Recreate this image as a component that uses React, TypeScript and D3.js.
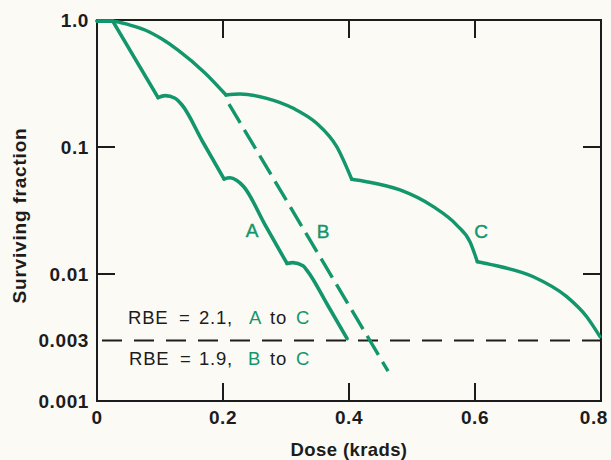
import React from "react";
import * as d3 from "d3";

// ---- data ----
const doseTicks = [0, 0.2, 0.4, 0.6, 0.8];
const doseTickLabels = ["0", "0.2", "0.4", "0.6", "0.8"];
const fracTicks = [1, 0.1, 0.01, 0.003, 0.001];
const fracTickLabels = ["1.0", "0.1", "0.01", "0.003", "0.001"];
const innerDoseTicks = [0.2, 0.4, 0.6];
const innerFracTicks = [0.1, 0.01];
const referenceLevel = 0.003;

// Curve A (solid), split at its cusps
const curveA: [number, number][][] = [
  [[0, 0.98], [0.025, 0.98]],
  [[0.025, 0.98], [0.097, 0.245]],
  [[0.097, 0.245], [0.108, 0.254], [0.124, 0.242], [0.135, 0.214], [0.168, 0.1095], [0.2016, 0.056]],
  [[0.2016, 0.056], [0.211, 0.0572], [0.222, 0.0545], [0.233, 0.0487], [0.267, 0.0243], [0.3016, 0.0121]],
  [[0.3016, 0.0121], [0.311, 0.0123], [0.327, 0.0116], [0.335, 0.0104], [0.366, 0.0057], [0.397, 0.0031]],
];

// Curve B (dashed)
const curveB: [number, number][] = [[0.2095, 0.218], [0.462, 0.00172]];

// Curve C (solid), split at its cusps
const curveC: [number, number][][] = [
  [[0, 0.98], [0.024, 0.978], [0.0524, 0.913], [0.0762, 0.834], [0.1032, 0.708], [0.1286, 0.58], [0.1714, 0.383], [0.2048, 0.2567]],
  [[0.2048, 0.2567], [0.227, 0.2615], [0.2694, 0.2417], [0.3116, 0.2017], [0.3487, 0.1537], [0.3805, 0.1006], [0.4043, 0.0557]],
  [[0.4043, 0.0557], [0.4281, 0.0533], [0.481, 0.0459], [0.5338, 0.0339], [0.571, 0.0243], [0.592, 0.01796], [0.6037, 0.0125]],
  [[0.6037, 0.0125], [0.6238, 0.01192], [0.6925, 0.00952], [0.7456, 0.00663], [0.7773, 0.00461], [0.7984, 0.00321]],
];

const W = 611;
const H = 460;
const GREEN = "#12966b";
const INK = "#1c1c1c";
const BG = "#fcfaf5";
const FONT = "'Liberation Sans', Arial, Helvetica, sans-serif";

export default function App() {
  const x = d3.scaleLinear().domain([0, 0.8]).range([97, 601]);
  const y = d3.scaleLog().domain([0.001, 1]).range([401, 20]);
  const line = d3
    .line<[number, number]>()
    .x((d) => x(d[0]))
    .y((d) => y(d[1]))
    .curve(d3.curveMonotoneX);
  const straight = d3
    .line<[number, number]>()
    .x((d) => x(d[0]))
    .y((d) => y(d[1]));

  const x0 = x(0), x1 = x(0.8), yTop = y(1), yBot = y(0.001);
  const tickLen = 18;

  return (
    <svg
      width={W}
      height={H}
      style={{ position: "absolute", left: 0, top: 0, background: BG }}
      fontFamily={FONT}
    >
      <rect x={0} y={0} width={W} height={H} fill={BG} />
      {/* frame */}
      <rect x={x0} y={yTop} width={x1 - x0} height={yBot - yTop} fill="none" stroke={INK} strokeWidth={2} />
      {/* inner ticks */}
      {innerDoseTicks.map((d) => (
        <g key={"dx" + d}>
          <line x1={x(d)} x2={x(d)} y1={yTop} y2={yTop + tickLen} stroke={INK} strokeWidth={2} />
          <line x1={x(d)} x2={x(d)} y1={yBot} y2={yBot - tickLen} stroke={INK} strokeWidth={2} />
        </g>
      ))}
      {innerFracTicks.map((f) => (
        <g key={"fy" + f}>
          <line x1={x0} x2={x0 + tickLen} y1={y(f)} y2={y(f)} stroke={INK} strokeWidth={2} />
          <line x1={x1} x2={x1 - tickLen} y1={y(f)} y2={y(f)} stroke={INK} strokeWidth={2} />
        </g>
      ))}
      {/* tick labels */}
      {fracTicks.map((f, i) => (
        <text key={"fl" + f} x={89} y={y(f) + 6.7} textAnchor="end" fontSize={19} fontWeight="bold" fill={INK} letterSpacing={0.6}>
          {fracTickLabels[i]}
        </text>
      ))}
      {doseTicks.map((d, i) => (
        <text
          key={"dl" + d}
          x={i === doseTicks.length - 1 ? x(d) + 7 : x(d)}
          y={424}
          textAnchor={i === doseTicks.length - 1 ? "end" : "middle"}
          fontSize={19}
          fontWeight="bold"
          fill={INK}
          letterSpacing={0.6}
        >
          {doseTickLabels[i]}
        </text>
      ))}
      {/* axis titles */}
      <text x={349} y={456} textAnchor="middle" fontSize={18.5} fontWeight="bold" fill={INK} letterSpacing={0.4}>
        Dose (krads)
      </text>
      <text
        transform="translate(26,215.5) rotate(-90)"
        textAnchor="middle"
        fontSize={19}
        fontWeight="bold"
        fill={INK}
        letterSpacing={0.8}
      >
        Surviving fraction
      </text>
      {/* reference level */}
      <line
        x1={x(0)}
        x2={x(0.8)}
        y1={y(referenceLevel)}
        y2={y(referenceLevel)}
        stroke={INK}
        strokeWidth={2}
        strokeDasharray="20,12"
        strokeDashoffset={-5}
      />
      {/* curves */}
      {curveA.map((seg, i) => (
        <path key={"a" + i} d={line(seg) || ""} fill="none" stroke={GREEN} strokeWidth={3.6} strokeLinejoin="round" strokeLinecap="round" />
      ))}
      {curveC.map((seg, i) => (
        <path key={"c" + i} d={line(seg) || ""} fill="none" stroke={GREEN} strokeWidth={3.4} strokeLinejoin="round" strokeLinecap="round" />
      ))}
      <path d={straight(curveB) || ""} fill="none" stroke={GREEN} strokeWidth={3.4} strokeDasharray="22,8" />
      {/* curve labels */}
      <text x={252} y={237} textAnchor="middle" fontSize={19} fill={GREEN} stroke={GREEN} strokeWidth={0.4}>A</text>
      <text x={323} y={238} textAnchor="middle" fontSize={19} fill={GREEN} stroke={GREEN} strokeWidth={0.4}>B</text>
      <text x={481} y={238} textAnchor="middle" fontSize={19} fill={GREEN} stroke={GREEN} strokeWidth={0.4}>C</text>
      {/* RBE annotations */}
      <g fontSize={18.5} fill={INK} letterSpacing={0.8}>
        <text x={128} y={324}>RBE</text>
        <text x={179} y={324}>=</text>
        <text x={199} y={324}>2.1,</text>
        <text x={249} y={324} fill={GREEN}>A</text>
        <text x={270} y={324}>to</text>
        <text x={296} y={324} fill={GREEN}>C</text>
        <text x={129} y={365}>RBE</text>
        <text x={180} y={365}>=</text>
        <text x={199} y={365}>1.9,</text>
        <text x={248} y={365} fill={GREEN}>B</text>
        <text x={270} y={365}>to</text>
        <text x={296} y={365} fill={GREEN}>C</text>
      </g>
    </svg>
  );
}
